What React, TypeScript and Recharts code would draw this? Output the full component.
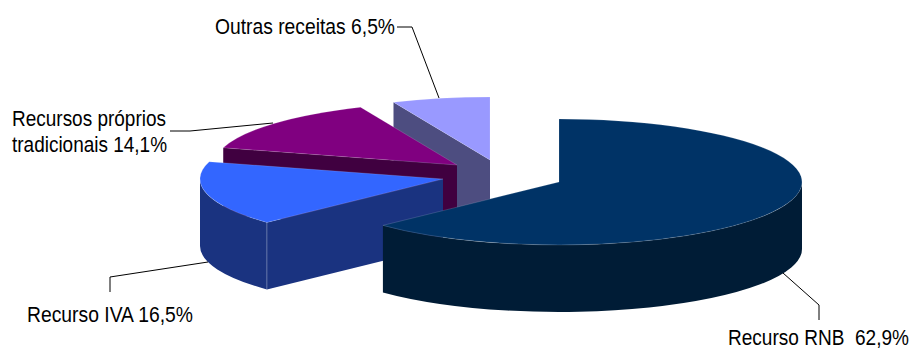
import { Pie, PieChart } from 'recharts';

const categories = ['Outras receitas', 'Recursos próprios tradicionais', 'Recurso IVA', 'Recurso RNB'];
const shares = [6.5, 14.1, 16.5, 62.9];

const topColors = ['#9999ff', '#800080', '#3366ff', '#003366'];
const wallColors = ['#4d4d80', '#400040', '#1a3380', '#001c36'];

// how far each slice is pulled away from the main one
const explodeX = [-69, -102, -116, 0];
const explodeY = [-22, -17, -3, 0];

const labelLines = [
  ['Outras receitas 6,5%'],
  ['Recursos próprios', 'tradicionais 14,1%'],
  ['Recurso IVA 16,5%'],
  ['Recurso RNB  62,9%'],
];
const labelWidths = [[180], [154, 155], [166], [181]];
const labelX = [215, 12, 27, 728];
const labelY = [34, 126, 322, 345];
const leaders = [
  '397,27 412,27 439,98',
  '170,131 190,131 273,123',
  '110,292 110,277 208,262',
  '819,320 819,305 783,273',
];

const CX = 559;
const CY = 182;
const RADIUS = 243;
const TILT = 63 / 243;
const DEPTH = 67;

const rows = categories.map((name, i) => ({ name, value: shares[i], fill: topColors[i] }));

function Slice3D(props: any) {
  const { cx, cy, outerRadius, startAngle, endAngle, index, fill } = props;
  const ox = cx + explodeX[index];
  const oy = cy + explodeY[index];
  const ry = outerRadius * TILT;
  const at = (deg: number, drop = 0) => {
    const rad = (deg * Math.PI) / 180;
    return `${ox + outerRadius * Math.cos(rad)} ${oy - ry * Math.sin(rad) + drop}`;
  };

  const a1 = Math.min(startAngle, endAngle);
  const a2 = Math.max(startAngle, endAngle);
  const large = a2 - a1 > 180 ? 1 : 0;
  const arc = `${outerRadius} ${ry} 0`;

  const top = `M ${ox} ${oy} L ${at(a1)} A ${arc} ${large} 0 ${at(a2)} Z`;

  // a cut face only shows when its outward side points at the viewer
  const faces: number[] = [];
  if (Math.sin(((a1 - 90) * Math.PI) / 180) < -0.001) faces.push(a1);
  if (Math.sin(((a2 + 90) * Math.PI) / 180) < -0.001) faces.push(a2);

  // the rim is only seen on the near half of the ellipse
  const w1 = Math.max(a1, 180);
  const w2 = Math.min(a2, 360);
  const hasRim = w2 > w1;

  return (
    <g>
      {faces.map((a) => (
        <path
          key={a}
          d={`M ${ox} ${oy} L ${at(a)} L ${at(a, DEPTH)} L ${ox} ${oy + DEPTH} Z`}
          fill={wallColors[index]}
        />
      ))}
      {hasRim ? (
        <path
          d={`M ${at(w1)} A ${arc} 0 0 ${at(w2)} L ${at(w2, DEPTH)} A ${arc} 0 1 ${at(w1, DEPTH)} Z`}
          fill={wallColors[index]}
        />
      ) : null}
      {/* thin seam where a cut face meets the rim */}
      {hasRim
        ? faces.map((a) => (
            <path
              key={`seam-${a}`}
              d={`M ${at(a)} L ${at(a, DEPTH)}`}
              stroke="#ffffff"
              strokeOpacity={0.35}
              strokeWidth={0.8}
              fill="none"
            />
          ))
        : null}
      <path d={top} fill={fill} stroke="#ffffff" strokeOpacity={0.25} strokeWidth={0.6} />
    </g>
  );
}

function SliceLabel({ index }: any) {
  return (
    <g>
      <polyline points={leaders[index]} fill="none" stroke="#000000" strokeWidth={1} />
      {labelLines[index].map((line, i) => (
        <text
          key={line}
          x={labelX[index]}
          y={labelY[index] + i * 26}
          fontFamily="Liberation Sans"
          fontSize={22}
          fill="#000000"
          textLength={labelWidths[index][i]}
          lengthAdjust="spacingAndGlyphs"
          style={{ whiteSpace: 'pre' }}
        >
          {line}
        </text>
      ))}
    </g>
  );
}

export default function App() {
  return (
    <div style={{ position: 'absolute', left: 0, top: 0, width: 912, height: 349, background: '#ffffff' }}>
      <PieChart width={912} height={349} margin={{ top: 0, right: 0, bottom: 0, left: 0 }}>
        <Pie
          data={rows}
          dataKey="value"
          nameKey="name"
          cx={CX}
          cy={CY}
          outerRadius={RADIUS}
          startAngle={90}
          endAngle={450}
          stroke="none"
          shape={Slice3D}
          label={SliceLabel}
          labelLine={false}
          isAnimationActive={false}
        />
      </PieChart>
    </div>
  );
}
